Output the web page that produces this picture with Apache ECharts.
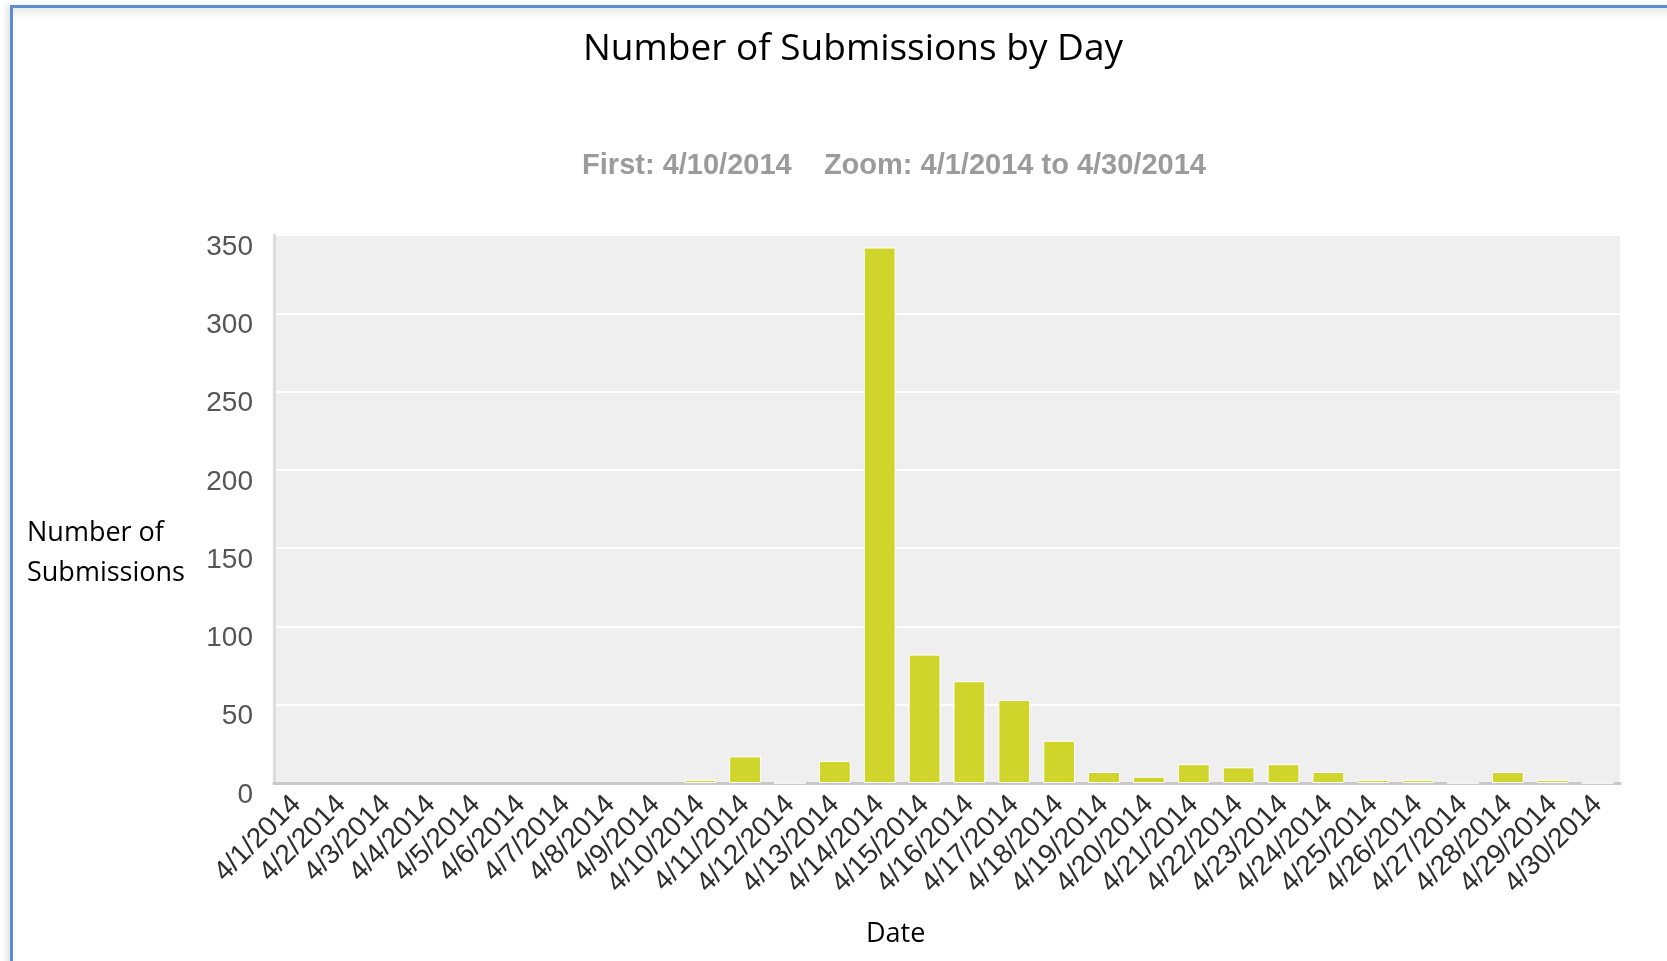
<!DOCTYPE html>
<html>
<head>
<meta charset="utf-8">
<script src="https://cdn.jsdelivr.net/npm/echarts@6/dist/echarts.min.js"></script>
<style>
  html, body { margin: 0; padding: 0; background: #ffffff; }
  #frame {
    position: absolute; left: 10px; top: 5px; width: 1670px; height: 970px;
    border-top: 3px solid #5b8fcb; border-left: 3px solid #5b8fcb;
    box-shadow: -4px 0 6px rgba(0,0,0,0.10), inset 0 10px 10px -6px rgba(0,0,0,0.10);
  }
  #chart { position: absolute; left: 0; top: 0; width: 1667px; height: 961px; }
</style>
</head>
<body>
<div id="frame"></div>
<div id="chart"></div>
<script>
const titleText = 'Number of Submissions by Day';
const subtitleText = 'First: 4/10/2014    Zoom: 4/1/2014 to 4/30/2014';
const yAxisTitle = 'Number of\nSubmissions';
const xAxisTitle = 'Date';
const categories = [
  '4/1/2014','4/2/2014','4/3/2014','4/4/2014','4/5/2014','4/6/2014','4/7/2014','4/8/2014','4/9/2014','4/10/2014',
  '4/11/2014','4/12/2014','4/13/2014','4/14/2014','4/15/2014','4/16/2014','4/17/2014','4/18/2014','4/19/2014','4/20/2014',
  '4/21/2014','4/22/2014','4/23/2014','4/24/2014','4/25/2014','4/26/2014','4/27/2014','4/28/2014','4/29/2014','4/30/2014'
];
// null = no data before the first submission (no bar drawn)
const submissions = [
  null, null, null, null, null, null, null, null, null, 2,
  17, 0, 14, 342, 82, 65, 53, 27, 7, 4,
  12, 10, 12, 7, 2, 2, 0, 7, 2, 0
];
const yMin = 0, yMax = 350, yStep = 50;

const chart = echarts.init(document.getElementById('chart'), null, { renderer: 'canvas' });
chart.setOption({
  backgroundColor: 'transparent',
  animation: false,
  title: [
    {
      text: titleText, left: 848, top: 26, textAlign: 'center',
      textStyle: { fontFamily: 'Open Sans', fontSize: 37, fontWeight: 'normal', color: '#000000' }
    },
    {
      text: subtitleText, left: 889, top: 146, textAlign: 'center',
      textStyle: { fontFamily: 'Liberation Sans', fontSize: 29, fontWeight: 'bold', color: '#9b9b9b' }
    }
  ],
  graphic: [
    {
      type: 'text', left: 27, top: 513,
      style: { text: yAxisTitle, font: '27px "Open Sans"', fill: '#000000', lineHeight: 40 }
    },
    {
      type: 'text', left: 866, top: 921,
      style: { text: xAxisTitle, font: '27px "Open Sans"', fill: '#000000' }
    }
  ],
  grid: {
    left: 274, right: 47, top: 235, bottom: 178, containLabel: false,
    show: true, backgroundColor: '#efefef', borderWidth: 0
  },
  xAxis: {
    type: 'category',
    data: categories,
    axisLine: { show: true, lineStyle: { color: '#c8c8c8', width: 3 } },
    axisTick: { show: false },
    axisLabel: {
      interval: 0, rotate: 45, margin: 17,
      fontFamily: 'Liberation Sans', fontSize: 28, color: '#2e2e2e'
    },
    splitLine: { show: false }
  },
  yAxis: {
    type: 'value',
    min: yMin, max: yMax, interval: yStep,
    axisLine: { show: true, lineStyle: { color: '#dcdcdc', width: 3 } },
    axisTick: { show: false },
    axisLabel: {
      margin: 21, fontFamily: 'Liberation Sans', fontSize: 28, color: '#555555',
      verticalAlign: 'top', lineHeight: 24
    },
    splitLine: { show: true, lineStyle: { color: '#ffffff', width: 2 } }
  },
  series: [{
    type: 'bar',
    data: submissions,
    barCategoryGap: '29%',
    itemStyle: { color: '#cfd52a', borderColor: '#ffffff', borderWidth: 1 }
  }]
});
</script>
</body>
</html>
